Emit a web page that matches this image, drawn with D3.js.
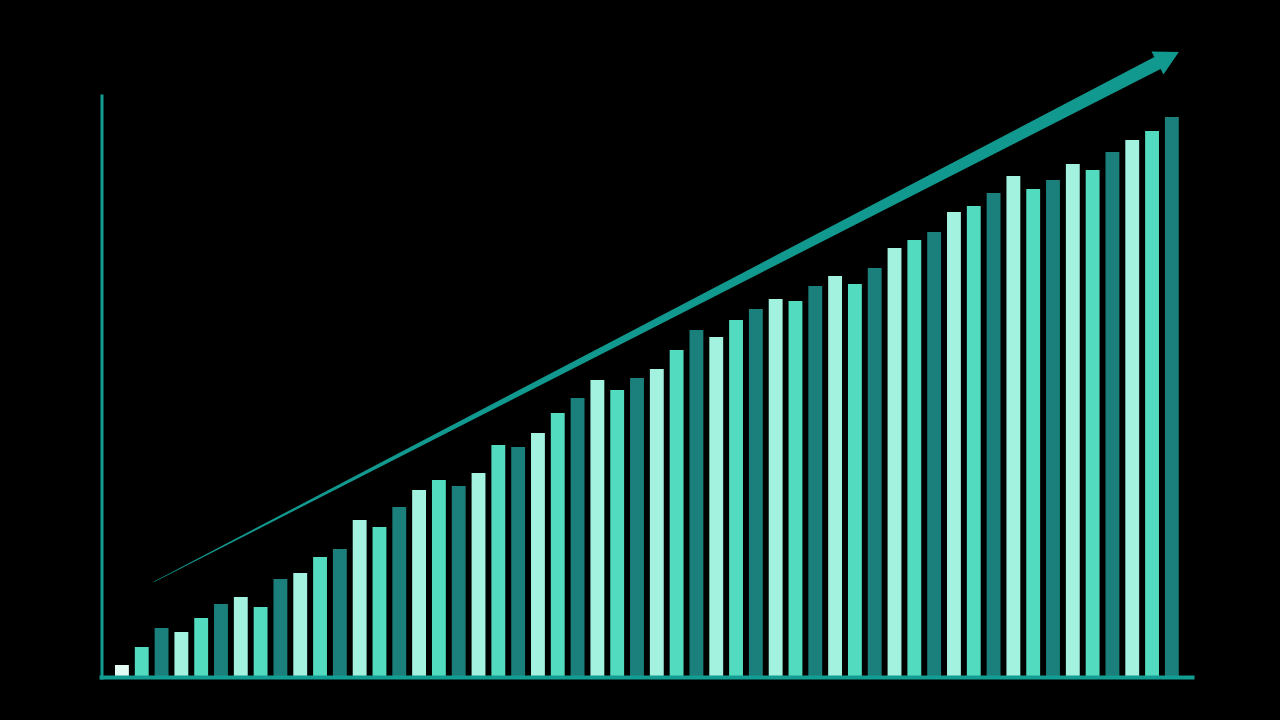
<!DOCTYPE html>
<html>
<head>
<meta charset="utf-8">
<script src="https://cdn.jsdelivr.net/npm/d3@7"></script>
<style>
  html, body { margin: 0; padding: 0; background: #000; }
  svg { display: block; }
</style>
</head>
<body>
<svg id="chart" width="1280" height="720"></svg>
<script>
// ---- data ----
const categories = d3.range(1, 55).map(i => "P" + i);
const values = [
  11, 29, 48, 44, 58, 72, 79, 69, 97, 103,
  119, 127, 156, 149, 169, 186, 196, 190, 203, 231,
  229, 243, 263, 278, 296, 286, 298, 307, 326, 346,
  339, 356, 367, 377, 375, 390, 400, 392, 408, 428,
  436, 444, 464, 470, 483, 500, 487, 496, 512, 506,
  524, 536, 545, 559
];
// trend arrow: from (category index, value) to (category index, value)
const trendStart = [1.95, 94];
const trendEnd = [53.7, 624];

// ---- styles ----
const firstColor = "#e4fbf4";
const palette = ["#52dbbf", "#1b807c", "#a3f2df"];
const axisColor = "#139e94";
const arrowColor = "#12998f";

const svg = d3.select("#chart");
svg.append("rect").attr("width", 1280).attr("height", 720).attr("fill", "#000");

const x = d3.scaleBand()
  .domain(categories)
  .range([105.1, 1188.7])
  .paddingInner(0.3)
  .paddingOuter(0.5);

const y = d3.scaleLinear().domain([0, 600]).range([676, 76]);

const xi = d3.scaleLinear().domain([0, categories.length - 1])
  .range([x(categories[0]), x(categories[categories.length - 1])]);

// bars
svg.append("g").selectAll("rect")
  .data(values)
  .join("rect")
  .attr("x", (d, i) => x(categories[i]))
  .attr("width", x.bandwidth())
  .attr("y", d => y(d))
  .attr("height", d => y(0) - y(d))
  .attr("fill", (d, i) => i === 0 ? firstColor : palette[(i - 1) % 3]);

// axes (plain lines, no ticks)
const yAxis = d3.axisLeft(d3.scaleLinear().domain([0, 1]).range([679, 94]))
  .ticks(0).tickSize(0).tickSizeOuter(0);
svg.append("g").attr("transform", "translate(101.5,0)").call(yAxis)
  .call(g => g.select(".domain").attr("stroke", axisColor).attr("stroke-width", 3));

const xAxis = d3.axisBottom(d3.scaleLinear().domain([0, 1]).range([99, 1194]))
  .ticks(0).tickSize(0).tickSizeOuter(0);
svg.append("g").attr("transform", "translate(0,677)").call(xAxis)
  .call(g => g.select(".domain").attr("stroke", axisColor).attr("stroke-width", 4));

// trend arrow (tapered shaft + head)
const p0 = [xi(trendStart[0]), y(trendStart[1])];
const p1 = [xi(trendEnd[0]), y(trendEnd[1])];
const dx = p1[0] - p0[0], dy = p1[1] - p0[1];
const L = Math.hypot(dx, dy);
const u = [dx / L, dy / L];
const n = [-u[1], u[0]];
const headLen = 24, headHalf = 13, shaftHalf = 6.8, startHalf = 0.3;
const b = [p1[0] - u[0] * headLen, p1[1] - u[1] * headLen];
const pt = (c, k) => [c[0] + n[0] * k, c[1] + n[1] * k];
const arrowPts = [
  pt(p0, startHalf), pt(b, shaftHalf), pt(b, headHalf), p1,
  pt(b, -headHalf), pt(b, -shaftHalf), pt(p0, -startHalf)
];
svg.append("path")
  .attr("d", d3.line()(arrowPts) + "Z")
  .attr("fill", arrowColor);
</script>
</body>
</html>
